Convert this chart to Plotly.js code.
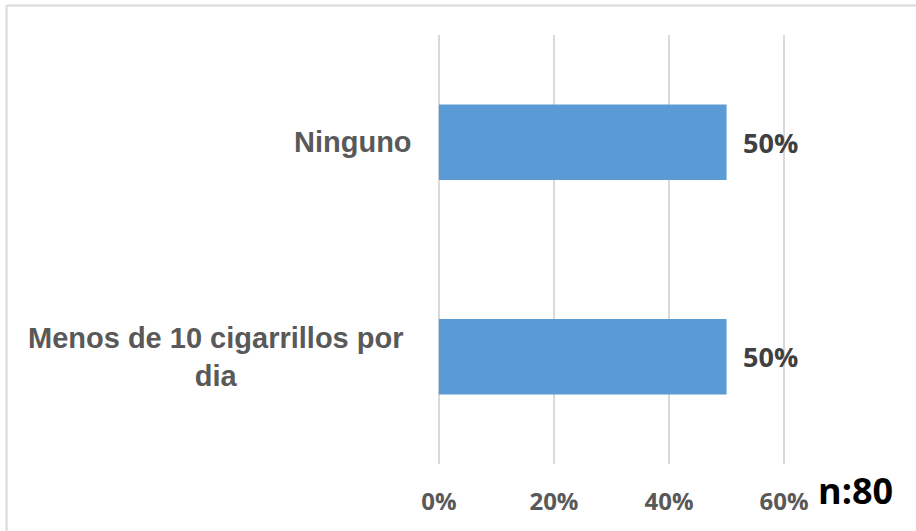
<!DOCTYPE html>
<html>
<head>
<meta charset="utf-8">
<script src="https://cdn.plot.ly/plotly-3.0.1.min.js"></script>
<style>
html,body{margin:0;padding:0;background:#fff;}
#chart{width:916px;height:531px;}
</style>
</head>
<body>
<div id="chart"></div>
<script>
// Data (bottom to top as drawn by Plotly)
const categories = ['Menos de 10 cigarrillos por dia', 'Ninguno'];
const categoryLabels = ['Menos de 10 cigarrillos por<br>dia', 'Ninguno'];
const values = [0.50, 0.50];
const tickValues = [0, 0.2, 0.4, 0.6];
const tickLabels = ['0%', '20%', '40%', '60%'];
const sampleNote = 'n:80';

const catFont = {family: '"Liberation Sans", Arial, sans-serif', size: 29, color: '#595959', weight: 'bold'};
const numFont = '"Open Sans", "Noto Sans", sans-serif';

const annotations = [];
categories.forEach((c, i) => {
  annotations.push({
    xref: 'paper', yref: 'y', x: -0.063, y: c,
    text: '<b>' + categoryLabels[i] + '</b>',
    showarrow: false, xanchor: 'right', yanchor: 'middle', align: 'center',
    xshift: i === 0 ? -8 : 0,
    font: catFont
  });
  annotations.push({
    xref: 'x', yref: 'y', x: values[i], y: c,
    text: '<b>' + Math.round(values[i] * 100) + '%</b>',
    showarrow: false, xanchor: 'left', yanchor: 'middle', xshift: 14,
    font: {family: numFont, size: 27, color: '#404040'}
  });
});
annotations.push({
  xref: 'paper', yref: 'paper', x: 1.083, y: -0.062,
  text: '<b>' + sampleNote + '</b>', showarrow: false,
  xanchor: 'left', yanchor: 'middle',
  font: {family: numFont, size: 36, color: '#000000'}
});

const trace = {
  type: 'bar', orientation: 'h',
  x: values, y: categories,
  marker: {color: '#5B9BD5'},
  width: 0.353,
  hoverinfo: 'none'
};

const layout = {
  width: 916, height: 531,
  margin: {l: 436.1, r: 129.15, t: 34.5, b: 66.5},
  paper_bgcolor: '#ffffff', plot_bgcolor: '#ffffff',
  showlegend: false,
  xaxis: {
    range: [-0.005, 0.605], tickvals: tickValues, ticktext: tickLabels,
    showgrid: true, gridcolor: '#d9d9d9', gridwidth: 1.5,
    zeroline: false, showline: false, ticks: '',
    ticklabelstandoff: 21,
    tickfont: {family: numFont, size: 24, color: '#595959', weight: 'bold'},
    fixedrange: true
  },
  yaxis: {
    type: 'category', categoryarray: categories, categoryorder: 'array',
    range: [-0.5, 1.5], showticklabels: false, showgrid: false,
    zeroline: false, showline: false, ticks: '', fixedrange: true
  },
  annotations: annotations,
  shapes: [
    {type: 'line', xref: 'paper', yref: 'paper', x0: -1.2234, x1: 1.4, y0: 1.0686, y1: 1.0686,
     line: {color: '#d9d9d9', width: 2}},
    {type: 'line', xref: 'paper', yref: 'paper', x0: -1.2234, x1: -1.2234, y0: -0.2, y1: 1.0686,
     line: {color: '#d9d9d9', width: 2}}
  ]
};

Plotly.newPlot('chart', [trace], layout, {displayModeBar: false, staticPlot: true});
</script>
</body>
</html>
